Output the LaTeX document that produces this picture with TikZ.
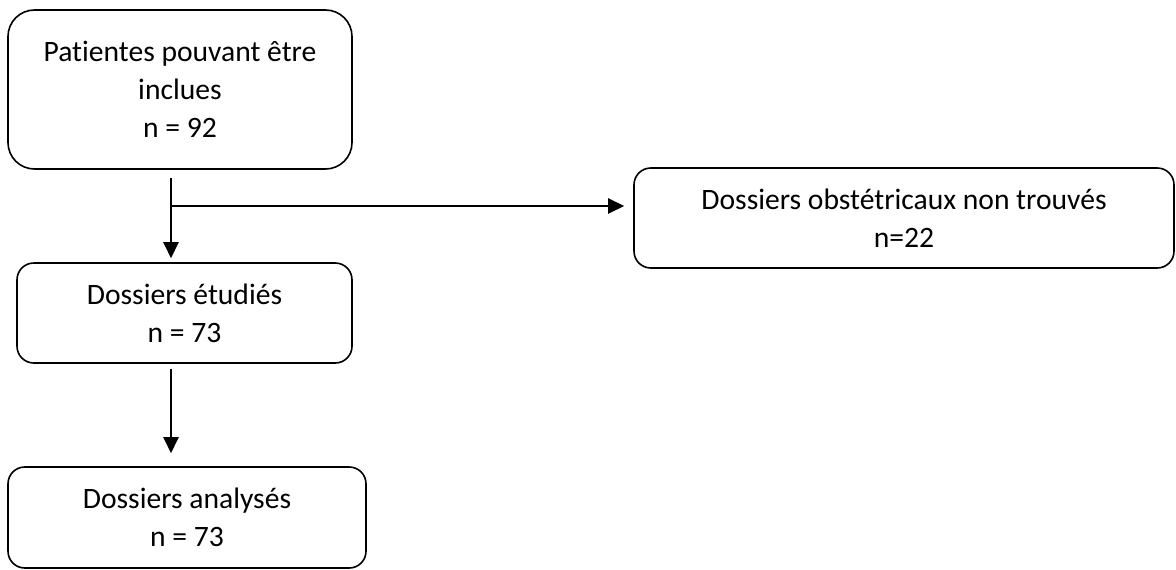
\documentclass[tikz,border=0pt]{standalone}
\usepackage{fontspec}
\setmainfont{Carlito}[Ligatures=NoCommon]
\usepackage{tikz}
\usetikzlibrary{
  arrows.meta,
  positioning
}
\tikzset{>={Triangle[length=8pt, width=7.5pt]}}
\tikzset{font=\fontsize{14.8}{19}\selectfont}
\tikzset{box/.style={draw, line width=0.8pt, align=center, inner sep=0pt,
    rounded corners=8.4pt}}
\tikzset{arr/.style={->, line width=1.2pt}}

\begin{document}
\begin{tikzpicture}[x=0.5pt, y=0.5pt]
    \useasboundingbox (0, 0) rectangle (1176, 569);
    \node[box, minimum width=172pt, minimum height=79.5pt, rounded corners=13.25pt]
      (incl) at (180, 479.5) {Patientes pouvant être\\ inclues\\ n = 92};
    \node[box, minimum width=270pt, minimum height=50pt]
      (obst) at (904, 351) {Dossiers obstétricaux non trouvés\\ n=22};
    \node[box, minimum width=167.5pt, minimum height=50pt]
      (etud) at (184.5, 256) {Dossiers étudiés\\ n = 73};
    \node[box, minimum width=179pt, minimum height=50.5pt]
      (anal) at (187, 51.5) {Dossiers analysés\\ n = 73};
    % branch point of the exclusion arrow
    \coordinate (split) at (171, 363);
    \draw[arr, shorten <=4pt, shorten >=2pt] (incl.south -| split) -- (etud.north -| split);
    \draw[arr, shorten >=4.5pt] (split) -- (obst.west |- split);
    \draw[arr, shorten <=2.5pt, shorten >=6.5pt] (etud.south -| split) -- (anal.north -| split);
\end{tikzpicture}
\end{document}
